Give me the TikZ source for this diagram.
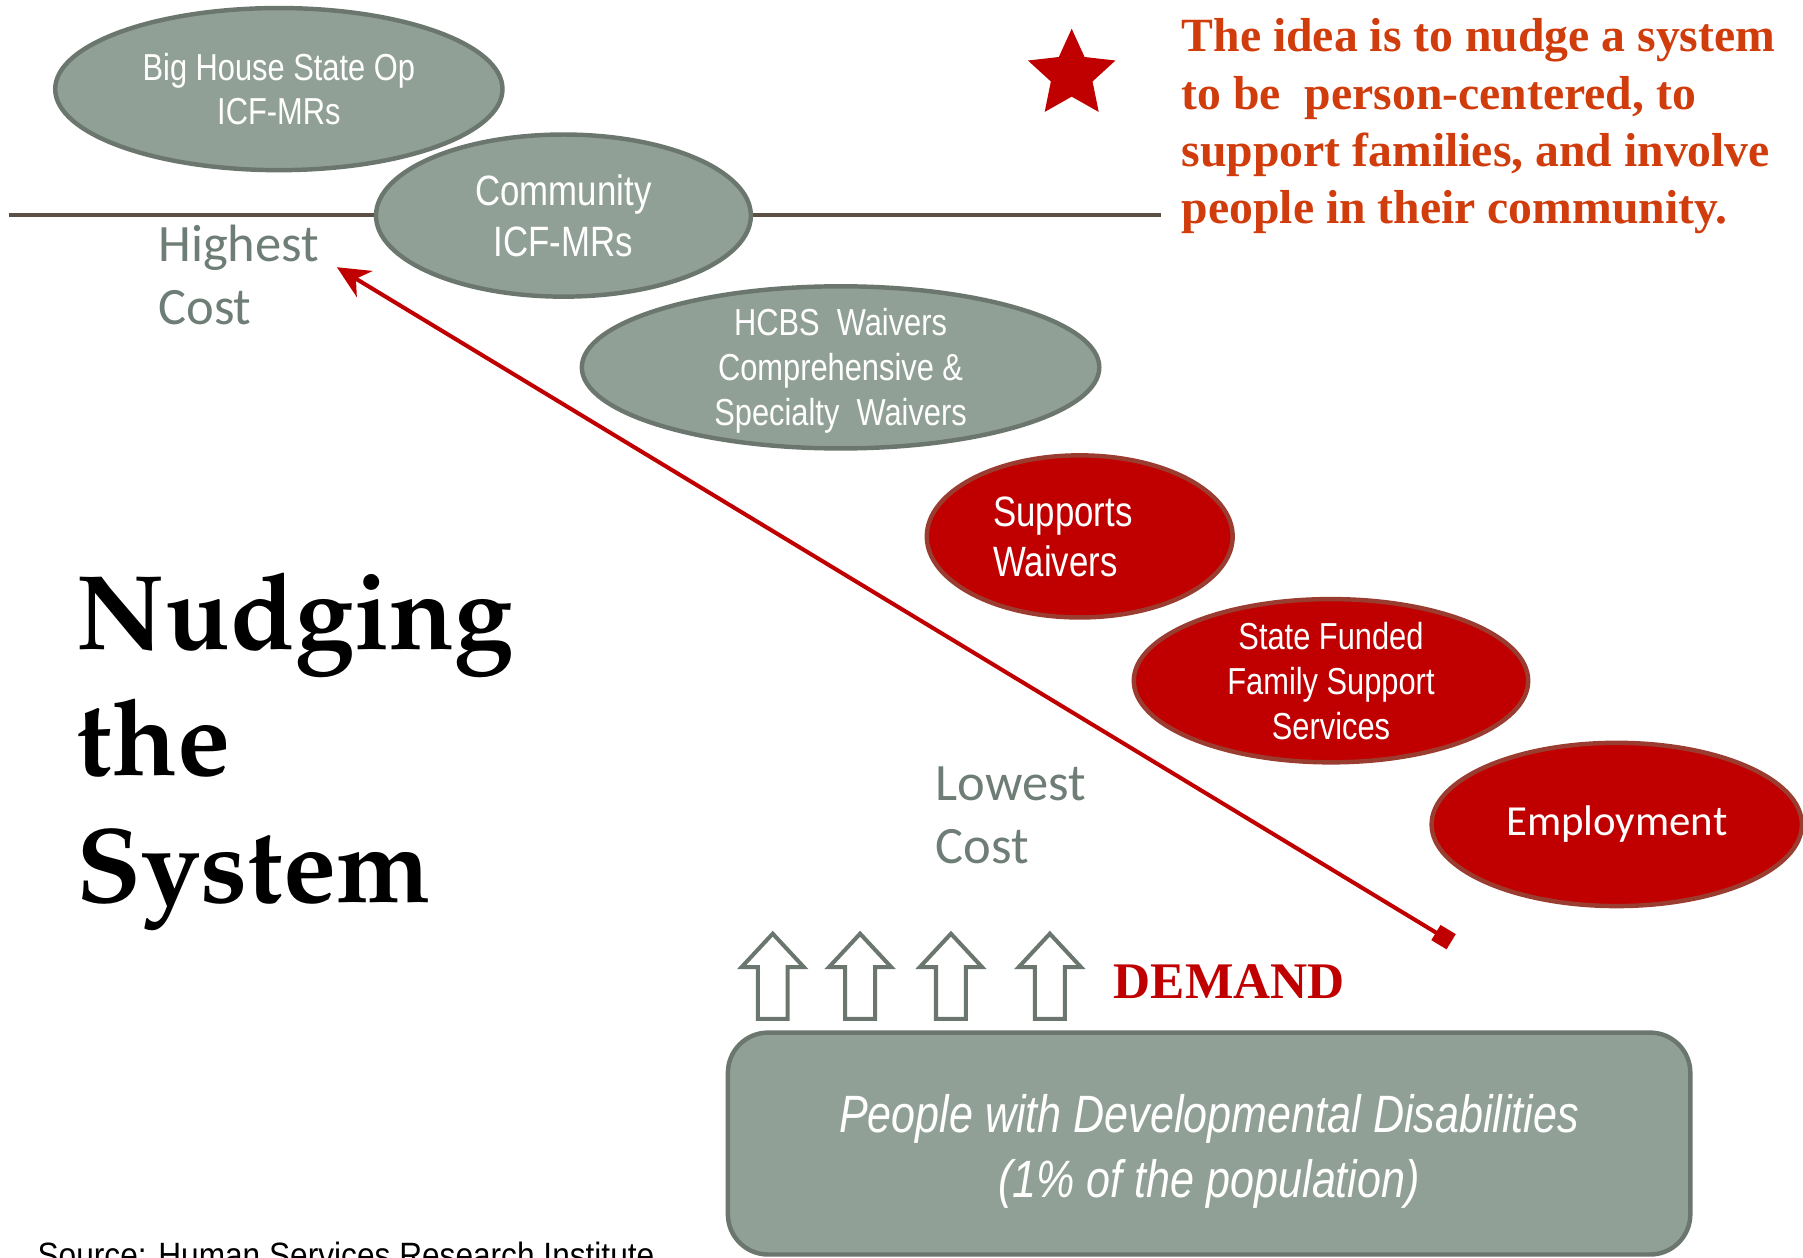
\documentclass[tikz,border=0pt]{standalone}
\usepackage[T1]{fontenc}
\usepackage{fontspec}
\setmainfont{Liberation Sans}
\newfontfamily\narrowfont[FakeStretch=0.82]{Liberation Sans}
\newfontfamily\sourcefont[FakeStretch=0.9]{Liberation Sans}
\newfontfamily\calfont{Carlito}
\newfontfamily\timesfont{Liberation Serif}
\newcommand{\palfont}{\fontencoding{T1}\fontfamily{ppl}\fontseries{b}\selectfont}
\usepackage{tikz}
\usetikzlibrary{positioning,shapes.geometric,arrows.meta}
\definecolor{bubfill}{RGB}{145,160,150}
\definecolor{bubedge}{RGB}{107,119,110}
\definecolor{deepred}{RGB}{192,0,0}
\definecolor{rededge}{RGB}{155,60,48}
\definecolor{linebrown}{RGB}{90,80,70}
\definecolor{costgrey}{RGB}{110,125,117}
\definecolor{ideared}{RGB}{208,60,12}
\tikzset{
	greybub/.style={ellipse, draw=bubedge, line width=1.1pt, fill=bubfill, inner sep=0pt},
	redbub/.style={ellipse, draw=rededge, line width=1.1pt, fill=deepred, inner sep=0pt},
	bubtext/.style={text=white, align=center, inner sep=0pt, font=\narrowfont\fontsize{9.3}{11.1}\selectfont},
	bigtext/.style={text=white, align=center, inner sep=0pt, font=\narrowfont\fontsize{10.5}{12.5}\selectfont},
	costlabel/.style={text=costgrey, align=left, inner sep=0pt, anchor=north west, font=\calfont\fontsize{13}{15.6}\selectfont},
	costline/.style={draw=linebrown, line width=1pt},
	costarrow/.style={draw=deepred, line width=1pt, {Square[length=4.4pt,width=4.4pt]}-{Stealth[length=8pt,width=7.5pt,inset=2.5pt]}},
	demandarrow/.style={draw=bubedge, fill=white, line width=1pt}
}

\begin{document}
\begin{tikzpicture}
	\useasboundingbox (0,0) rectangle (15.68,10.94);
	
	\coordinate (lineleft) at (0.08,9.07);
	\coordinate (lineright) at (10.10,9.07);
	\draw[costline] (lineleft) -- (lineright);
	
	% the care settings, from costly to cheap
	\node[greybub, minimum width=3.89cm, minimum height=1.41cm] (bighouse) at (2.425,10.165) {};
	\node[bubtext] (bighousetxt) at (bighouse) {Big House State Op\\ICF-MRs};
	\node[greybub, minimum width=3.26cm, minimum height=1.41cm] (community) at (4.90,9.065) {};
	\node[bigtext] (communitytxt) at (community) {Community\\ICF-MRs};
	\node[greybub, minimum width=4.50cm, minimum height=1.41cm] (hcbs) at (7.31,7.745) {};
	\node[bubtext] (hcbstxt) at ([yshift=-0.03cm]hcbs) {HCBS\ \ Waivers\\Comprehensive \&\\Specialty\ \ Waivers};
	\node[redbub, minimum width=2.66cm, minimum height=1.41cm] (supports) at (9.39,6.275) {};
	\node[bigtext, align=left, anchor=west] (supportstxt) at (8.63,6.27) {Supports\\Waivers};
	\node[redbub, minimum width=3.43cm, minimum height=1.42cm] (statefunded) at (11.575,5.02) {};
	\node[bubtext] (statefundedtxt) at (statefunded) {State Funded\\Family Support\\Services};
	\node[redbub, minimum width=3.22cm, minimum height=1.42cm] (employment) at (14.06,3.77) {};
	\node[text=white, inner sep=0pt, font=\calfont\fontsize{10.6}{12}\selectfont] (employmenttxt) at (employment) {Employment};
	
	\node[costlabel] (highest) at (1.37,8.99) {Highest\\Cost};
	\node[costlabel] (lowest) at (8.13,4.28) {Lowest\\Cost};
	
	\coordinate (lowend) at (12.62,2.75);
	\coordinate (highend) at (2.93,8.616);
	\draw[costarrow] (lowend) -- (highend);
	
	\node[star, star points=5, star point ratio=2.1, fill=deepred, minimum size=0.8cm, inner sep=0pt] (redstar) at (9.32,10.29) {};
	\node[text=ideared, align=left, inner sep=0pt, anchor=north west, font=\timesfont\bfseries\fontsize{11.8}{14.2}\selectfont] (idea) at (10.27,10.785) {The idea is to nudge a system\\to be\ \ person-centered, to\\support families, and involve\\people in their community.};
	
	\node[align=left, inner sep=0pt, anchor=north west, font=\palfont\fontsize{26.3}{31.3}\selectfont] (title) at (0.66,5.97) {Nudging\\the\\System};
	
	% demand arrows
	\foreach \ax in {6.72, 7.48, 8.27, 9.13}
		\draw[demandarrow] (\ax-0.13,2.08) -- (\ax-0.13,2.53) -- (\ax-0.27,2.53) -- (\ax,2.82) -- (\ax+0.27,2.53) -- (\ax+0.13,2.53) -- (\ax+0.13,2.08) -- cycle;
	\node[text=deepred, inner sep=0pt, anchor=base west, font=\timesfont\bfseries\fontsize{12.7}{14}\selectfont] (demand) at (9.68,2.26) {DEMAND};
	
	\node[draw=bubedge, line width=1.1pt, fill=bubfill, rounded corners=0.35cm, minimum width=8.37cm, minimum height=1.93cm] (people) at (10.515,0.995) {};
	\node[text=white, align=center, inner sep=0pt, font=\narrowfont\itshape\fontsize{13}{16}\selectfont] (peopletxt) at ([yshift=-0.07cm]people) {People with Developmental Disabilities\\(1\% of the population)};
	
	\node[inner sep=0pt, anchor=base west, font=\sourcefont\fontsize{8.7}{10}\selectfont] (source) at (0.32,-0.08) {Source: Human Services Research Institute};
\end{tikzpicture}
\end{document}
